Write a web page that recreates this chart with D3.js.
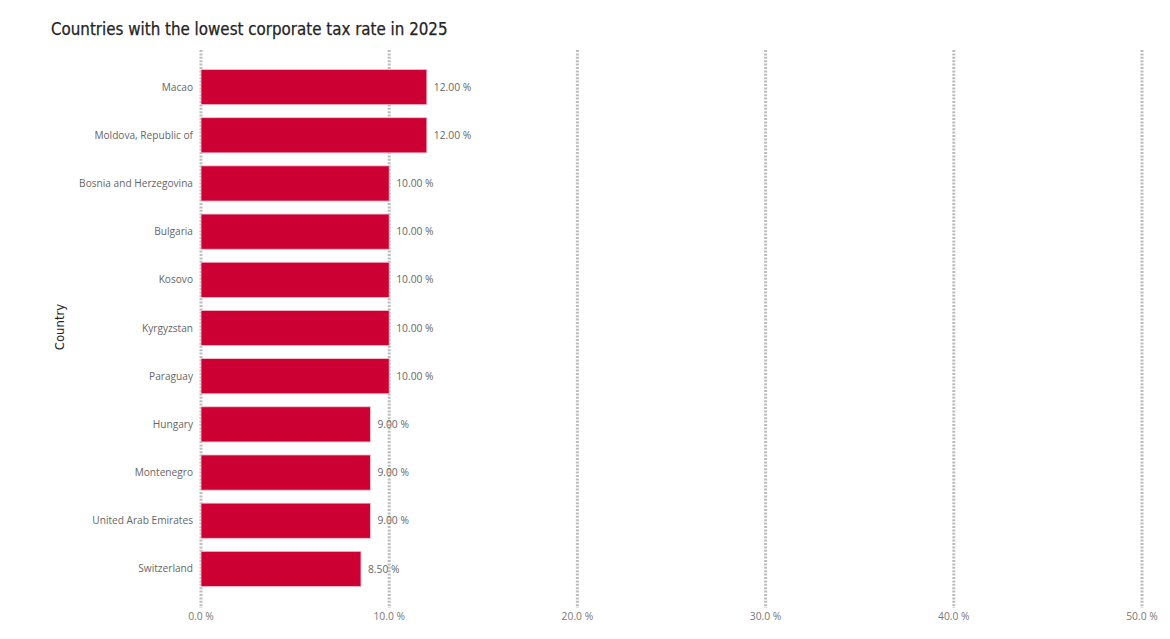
<!DOCTYPE html>
<html>
<head>
<meta charset="utf-8">
<script src="https://cdn.jsdelivr.net/npm/d3@7"></script>
<style>
  body { margin: 0; background: #fff; }
  svg { display: block; }
</style>
</head>
<body>
<svg id="chart" width="1170" height="639"></svg>
<script>
// chart data
var countries = ['Macao', 'Moldova, Republic of', 'Bosnia and Herzegovina', 'Bulgaria', 'Kosovo',
                 'Kyrgyzstan', 'Paraguay', 'Hungary', 'Montenegro', 'United Arab Emirates', 'Switzerland'];
var taxRates = [12, 12, 10, 10, 10, 10, 10, 9, 9, 9, 8.5];
var xTicks = [0, 10, 20, 30, 40, 50];

var width = 1170, height = 639;
var svg = d3.select('#chart');

var x = d3.scaleLinear().domain([0, 50]).range([201, 1142]);
var y = d3.scaleBand().domain(countries).range([63, 593]).paddingInner(0.27).paddingOuter(0.135);

// Title
svg.append('text').text('Countries with the lowest corporate tax rate in 2025')
  .attr('x', 51).attr('y', 35)
  .attr('font-family', '"DejaVu Sans Condensed", "DejaVu Sans", sans-serif').attr('font-size', '16.8px')
  .attr('fill', '#252423').attr('stroke', '#252423').attr('stroke-width', 0.25);

// Axis title
svg.append('text').text('Country')
  .attr('transform', 'translate(64,327) rotate(-90)')
  .attr('font-family', '"DejaVu Sans Condensed", "DejaVu Sans", sans-serif').attr('font-size', '13px')
  .attr('text-anchor', 'middle').attr('fill', '#252423');

// Gridlines
svg.append('g').selectAll('line')
  .data(xTicks).enter().append('line')
  .attr('x1', d => x(d)).attr('x2', d => x(d))
  .attr('y1', 50).attr('y2', 608)
  .attr('stroke', '#bdbdbd').attr('stroke-width', 3).attr('stroke-dasharray', '2,1.4');

// X tick labels
svg.append('g').selectAll('text')
  .data(xTicks).enter().append('text')
  .text(d => d.toFixed(1) + ' %')
  .attr('x', d => x(d)).attr('y', 620)
  .attr('text-anchor', 'middle')
  .attr('font-family', '"Open Sans", sans-serif').attr('font-size', '10.3px')
  .attr('fill', '#777');

// Bars
svg.append('g').selectAll('rect')
  .data(countries).enter().append('rect')
  .attr('x', x(0)).attr('y', d => y(d))
  .attr('width', (d, i) => x(taxRates[i]) - x(0))
  .attr('height', y.bandwidth())
  .attr('fill', '#cc0033').attr('stroke', '#f2c4cf').attr('stroke-width', 0.8);

// Category labels
svg.append('g').selectAll('text')
  .data(countries).enter().append('text')
  .text(d => d)
  .attr('x', 193).attr('y', d => y(d) + y.bandwidth()/2)
  .attr('dy', '0.35em').attr('text-anchor', 'end')
  .attr('font-family', '"Open Sans", sans-serif').attr('font-size', '10.15px')
  .attr('fill', '#666');

// Value labels
svg.append('g').selectAll('text')
  .data(countries).enter().append('text')
  .text((d, i) => taxRates[i].toFixed(2) + ' %')
  .attr('x', (d, i) => x(taxRates[i]) + 7).attr('y', d => y(d) + y.bandwidth()/2)
  .attr('dy', '0.35em')
  .attr('font-family', '"Open Sans", sans-serif').attr('font-size', '10.3px')
  .attr('fill', '#666');
</script>
</body>
</html>
